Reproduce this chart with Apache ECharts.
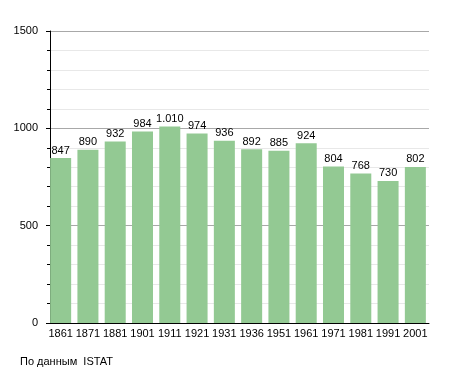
<!DOCTYPE html>
<html><head><meta charset="utf-8">
<script src="https://cdn.jsdelivr.net/npm/echarts@6/dist/echarts.min.js"></script>
<style>html,body{margin:0;padding:0;background:#fff}#c{width:455px;height:373px}</style>
</head><body><div id="c"></div>
<script>
const years = ['1861','1871','1881','1901','1911','1921','1931','1936','1951','1961','1971','1981','1991','2001'];
const population = [847,890,932,984,1010,974,936,892,885,924,804,768,730,802];
const yTicks = [0,500,1000,1500];
const sourceText = 'По данным  ISTAT';

const fmt = v => String(v).replace(/\B(?=(\d{3})+(?!\d))/g, '.');
const chart = echarts.init(document.getElementById('c'), null, {renderer:'canvas'});
chart.setOption({
  animation:false,
  textStyle:{fontFamily:'Liberation Sans, Arial, sans-serif'},
  grid:{left:47,right:26,top:31,bottom:50,containLabel:false},
  graphic:[{type:'text',left:20,top:356,style:{text:sourceText,font:'11px Liberation Sans, Arial, sans-serif',fill:'#000'}}],
  xAxis:{type:'category',data:years,
    axisLine:{lineStyle:{color:'#000',width:1}},
    axisTick:{show:false},
    axisLabel:{color:'#000',fontSize:11,margin:5,interval:0},
    boundaryGap:true},
  yAxis:{type:'value',min:yTicks[0],max:yTicks[yTicks.length-1],interval:500,offset:-3,
    axisLine:{show:true,lineStyle:{color:'#000'}},
    axisTick:{show:true,length:4,lineStyle:{color:'#000'}},
    minorTick:{show:true,splitNumber:5,length:3,lineStyle:{color:'#000'}},
    axisLabel:{color:'#000',fontSize:11,margin:12,formatter:v=>String(v)},
    splitLine:{lineStyle:{color:'#a8a8a8'}},
    minorSplitLine:{show:true,lineStyle:{color:'#e8e8e8'}}},
  series:[{type:'bar',data:population,barCategoryGap:'23%',
    itemStyle:{color:'#93c993'},
    label:{show:true,position:'top',distance:2,color:'#000',fontSize:11,formatter:p=>fmt(p.value)}}]
});
</script></body></html>
